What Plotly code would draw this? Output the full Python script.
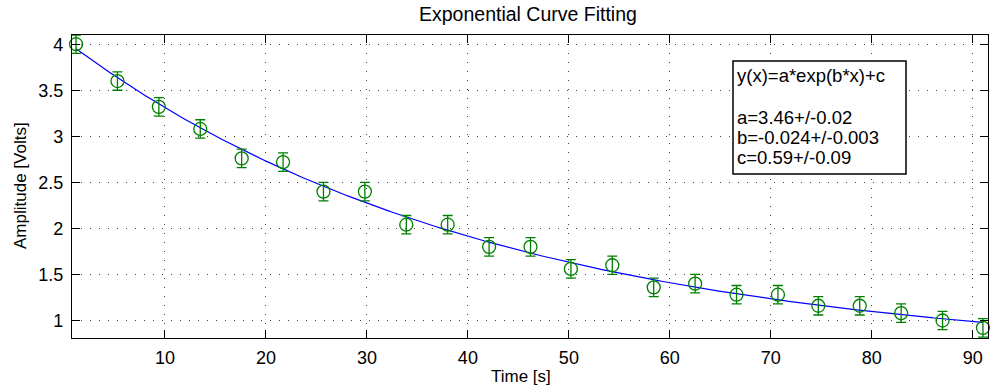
import numpy as np
import plotly.graph_objects as go

time_s = [1.2, 5.3, 9.4, 13.5, 17.6, 21.7, 25.7, 29.8, 33.9, 38.0, 42.1, 46.2,
          50.2, 54.3, 58.4, 62.5, 66.6, 70.7, 74.7, 78.8, 82.9, 87.0, 91.0]
amplitude = [4.00, 3.60, 3.32, 3.08, 2.76, 2.72, 2.40, 2.40, 2.04, 2.04, 1.80, 1.80,
             1.56, 1.60, 1.36, 1.40, 1.28, 1.28, 1.16, 1.16, 1.08, 1.00, 0.92]
amp_err = [0.1] * 23

# Fit parameters shown in the box
fit_a, fit_b, fit_c = 3.46, -0.024, 0.59
fit_text = ["y(x)=a*exp(b*x)+c", "a=3.46+/-0.02", "b=-0.024+/-0.003", "c=0.59+/-0.09"]

x_ticks = [10, 20, 30, 40, 50, 60, 70, 80, 90]
y_ticks = [1, 1.5, 2, 2.5, 3, 3.5, 4]

xf = np.linspace(min(time_s), max(time_s), 300)
yf = fit_a * np.exp(fit_b * xf) + fit_c

FONT = "Liberation Sans, Arial, Helvetica, sans-serif"
GREEN = "#008000"

fig = go.Figure()
fig.add_trace(go.Scatter(x=xf, y=yf, mode="lines",
                         line=dict(color="#0000FF", width=1.2),
                         hoverinfo="skip", showlegend=False))
fig.add_trace(go.Scatter(x=time_s, y=amplitude, mode="markers",
                         marker=dict(symbol="circle-open", size=13, color=GREEN,
                                     line=dict(color=GREEN, width=1.3)),
                         error_y=dict(type="data", array=amp_err, visible=True,
                                      color=GREEN, thickness=1.3, width=5),
                         cliponaxis=False, showlegend=False))

axis_common = dict(showline=True, linecolor="black", linewidth=1.3, mirror="ticks",
                   ticks="inside", ticklen=8, tickcolor="black", tickwidth=1,
                   showgrid=True, gridcolor="#444444", gridwidth=1, griddash="1px,8px",
                   zeroline=False,
                   tickfont=dict(family=FONT, size=18, color="black"))

fig.update_xaxes(range=[0.8, 91.5], tickvals=x_ticks, ticktext=[str(v) for v in x_ticks],
                 ticklabelstandoff=3, **axis_common)
fig.update_yaxes(range=[0.81, 4.1], tickvals=y_ticks, ticktext=[f"{v:g}" for v in y_ticks],
                 ticklabelstandoff=4, **axis_common)

annotations = [
    dict(text="Exponential Curve Fitting", xref="paper", yref="paper",
         x=(528 - 72) / 916, y=(338 - 14) / 303, xanchor="center", yanchor="middle",
         showarrow=False, font=dict(family=FONT, size=19.5, color="black")),
    dict(text="Time [s]", xref="paper", yref="paper",
         x=(521 - 72) / 916, y=(338 - 376) / 303, xanchor="center", yanchor="middle",
         showarrow=False, font=dict(family=FONT, size=17, color="black")),
    dict(text="Amplitude [Volts]", xref="paper", yref="paper", textangle=-90,
         x=(20 - 72) / 916, y=(338 - 186) / 303, xanchor="center", yanchor="middle",
         showarrow=False, font=dict(family=FONT, size=17, color="black")),
]
line_y_px = [75, 117, 137, 157]
for txt, py in zip(fit_text, line_y_px):
    annotations.append(dict(text=txt, xref="paper", yref="paper",
                            x=(735 - 72) / 916, y=(338 - py) / 303,
                            xanchor="left", yanchor="middle", showarrow=False,
                            font=dict(family=FONT, size=18.5, color="black")))

shapes = [dict(type="rect", xref="paper", yref="paper",
               x0=(733 - 72) / 916, x1=(906 - 72) / 916,
               y0=(338 - 174) / 303, y1=(338 - 61) / 303,
               line=dict(color="black", width=1.5), fillcolor="white", layer="above")]

fig.update_layout(width=992, height=390,
                  margin=dict(l=72, r=4, t=35, b=52),
                  paper_bgcolor="white", plot_bgcolor="white",
                  annotations=annotations, shapes=shapes,
                  font=dict(family=FONT, color="black"))

fig.write_html("out.html", config={"displayModeBar": False},
               post_script="document.body.style.margin='0px';document.body.style.overflow='hidden';")
